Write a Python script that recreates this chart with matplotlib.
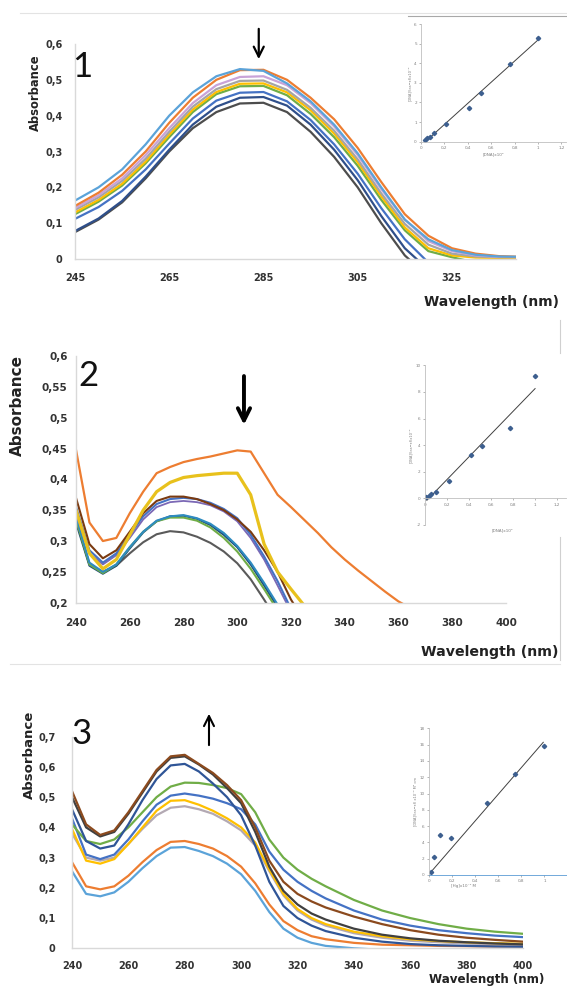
import numpy as np
import matplotlib
matplotlib.use('Agg')
import matplotlib.pyplot as plt
from matplotlib.ticker import FuncFormatter
from matplotlib.lines import Line2D

# ---------------- panel 1 data ----------------
wl1 = [245, 250, 255, 260, 265, 270, 275, 280, 285, 290, 295, 300, 305, 310, 315, 320, 325, 330, 335, 340]
p1_lightblue = [.163, .20, .25, .32, .40, .465, .51, .53, .525, .49, .44, .375, .295, .20, .11, .055, .025, .012, .007, .006]
p1_orange = [.148, .185, .235, .30, .38, .45, .50, .527, .528, .50, .45, .39, .31, .215, .125, .065, .03, .015, .008, .006]
p1_lilac = [.142, .178, .225, .29, .365, .435, .485, .508, .51, .485, .435, .37, .29, .195, .11, .05, .022, .01, .006, .005]
p1_gray = [.137, .172, .218, .28, .355, .425, .474, .497, .498, .472, .422, .358, .278, .183, .098, .04, .015, .007, .005, .005]
p1_yellow = [.130, .165, .21, .272, .347, .417, .466, .489, .49, .465, .415, .35, .27, .175, .088, .03, .01, .004, .003, .003]
p1_green = [.125, .16, .205, .267, .34, .41, .46, .482, .483, .457, .405, .34, .26, .165, .08, .022, .005, -.01]
p1_blue = [.112, .145, .19, .25, .322, .392, .442, .464, .466, .44, .388, .32, .238, .142, .055, -.01]
p1_navy = [.078, .113, .162, .23, .305, .375, .425, .45, .452, .428, .375, .305, .22, .12, .03, -.03]
p1_dark = [.075, .11, .158, .225, .30, .365, .41, .434, .436, .41, .355, .285, .20, .10, .01, -.05]
p1_series = [(p1_dark, '#4d4d4d'), (p1_navy, '#2f4f8a'), (p1_blue, '#4472C4'), (p1_green, '#70AD47'),
             (p1_yellow, '#FFC000'), (p1_gray, '#A5A5A5'), (p1_lilac, '#C9A3D8'), (p1_orange, '#ED7D31'),
             (p1_lightblue, '#5BA3D9')]

ins1_x = [0.034, 0.055, 0.077, 0.111, 0.214, 0.411, 0.512, 0.763, 1.0]
ins1_y = [0.09, 0.17, 0.26, 0.43, 0.90, 1.73, 2.47, 3.95, 5.31]

# ---------------- panel 2 data ----------------
wl2 = [240, 245, 250, 255, 260, 265, 270, 275, 280, 285, 290, 295, 300, 305, 310, 315, 320,
       325, 330, 335, 340, 345, 350, 355, 360, 365]
p2_orange = [.448, .33, .30, .305, .345, .38, .41, .42, .428, .433, .437, .442, .447, .445, .41, .375, .355,
             .334, .313, .29, .27, .252, .235, .218, .202, .19]
p2_yellow = [.35, .28, .255, .27, .31, .35, .38, .395, .403, .406, .408, .41, .41, .375, .295, .25, .222, .195]
p2_brown = [.37, .295, .272, .285, .315, .345, .365, .372, .372, .368, .36, .35, .335, .315, .285, .25, .205, .17]
p2_blue = [.355, .285, .265, .28, .31, .34, .36, .368, .37, .368, .362, .352, .337, .31, .275, .235, .19]
p2_purple = [.345, .28, .262, .277, .305, .335, .355, .363, .365, .363, .358, .348, .332, .305, .27, .228, .185]
p2_teal = [.34, .265, .25, .262, .29, .315, .333, .34, .342, .337, .328, .313, .292, .265, .232, .197]
p2_green = [.335, .262, .248, .262, .29, .315, .332, .338, .338, .333, .322, .305, .283, .255, .222, .188]
p2_navy = [.33, .26, .247, .26, .288, .314, .332, .34, .341, .336, .326, .31, .29, .262, .228, .193]
p2_dark = [.335, .262, .25, .26, .28, .298, .311, .316, .314, .307, .297, .283, .264, .238, .205, .17]
p2_series = [(p2_dark, '#5a5a5a', 1.5), (p2_navy, '#1F4E79', 1.5), (p2_green, '#70AD47', 1.5),
             (p2_teal, '#2E8BC0', 1.5), (p2_purple, '#7B68B5', 1.3), (p2_blue, '#4472C4', 1.5),
             (p2_brown, '#7a3a10', 1.5), (p2_yellow, '#E8C11C', 2.3), (p2_orange, '#ED7D31', 1.6)]

ins2_x = [0.015, 0.035, 0.06, 0.105, 0.217, 0.42, 0.518, 0.777, 1.0]
ins2_y = [0.1, 0.2, 0.3, 0.5, 1.33, 3.25, 3.95, 5.3, 9.2]

# ---------------- panel 3 data ----------------
wl3 = [240, 245, 250, 255, 260, 265, 270, 275, 280, 285, 290, 295, 300, 305, 310, 315, 320, 325, 330,
       340, 350, 360, 370, 380, 390, 400]
p3_brown = [.52, .41, .375, .39, .45, .52, .59, .635, .64, .61, .58, .54, .49, .40, .29, .22, .18, .155, .135,
            .105, .08, .06, .045, .035, .028, .022]
p3_dark = [.50, .40, .37, .385, .445, .515, .585, .63, .635, .608, .575, .53, .48, .385, .27, .19, .145, .115, .095,
           .065, .045, .033, .025, .02, .016, .013]
p3_navy = [.46, .355, .33, .34, .41, .49, .56, .605, .61, .585, .545, .50, .44, .34, .22, .14, .10, .075, .057,
           .035, .022, .014, .01, .008, .006, .005]
p3_green = [.41, .355, .345, .36, .40, .45, .50, .535, .548, .547, .54, .53, .51, .45, .36, .30, .26, .23, .205,
            .16, .125, .10, .08, .065, .055, .048]
p3_blue = [.43, .31, .295, .31, .36, .42, .475, .505, .512, .505, .495, .48, .46, .41, .32, .26, .22, .19, .165,
           .125, .095, .075, .06, .05, .042, .037]
p3_yellow = [.395, .29, .28, .295, .345, .40, .455, .488, .49, .475, .455, .43, .40, .35, .26, .18, .13, .10, .08,
             .055, .04, .03, .024, .02, .017, .015]
p3_gray = [.38, .30, .29, .30, .345, .395, .44, .465, .47, .46, .445, .42, .39, .34, .255, .175, .125, .095, .075,
           .05, .035, .025, .02, .016, .013, .012]
p3_orange = [.285, .205, .195, .205, .24, .285, .325, .352, .355, .345, .33, .305, .27, .215, .145, .09, .06, .04, .03,
             .018, .012, .01, .008, .007, .006, .006]
p3_lightblue = [.255, .18, .172, .185, .22, .265, .305, .333, .335, .322, .305, .28, .245, .19, .12, .065, .035, .018,
                .008, 0.0, -.005, -.005, -.005, -.005, -.005, -.005]
p3_series = [(p3_lightblue, '#5BA3D9'), (p3_orange, '#ED7D31'), (p3_gray, '#B3A9B3'), (p3_yellow, '#FFC000'),
             (p3_blue, '#4472C4'), (p3_green, '#70AD47'), (p3_navy, '#2F5597'), (p3_dark, '#404040'),
             (p3_brown, '#8B4A1E')]

ins3_x = [0.017, 0.046, 0.095, 0.19, 0.504, 0.749, 1.0]
ins3_y = [0.33, 2.25, 4.92, 4.59, 8.81, 12.42, 15.86]
fit3_slope, fit3_icpt = 16.4, 0.05

W, H = 567.0, 992.0
NUM_FONT = ['Lato', 'DejaVu Sans']


def px_box(left, top, right, bottom):
    return [left / W, 1 - bottom / H, (right - left) / W, (bottom - top) / H]


def comma(v, pos):
    s = ('%.2f' % v).rstrip('0').rstrip('.')
    if s == '-0':
        s = '0'
    return s.replace('.', ',')


def style_main(ax, fs, xpad, ypad):
    for s in ['top', 'right']:
        ax.spines[s].set_visible(False)
    for s in ['left', 'bottom']:
        ax.spines[s].set_color('#D9D9D9')
        ax.spines[s].set_linewidth(1.0)
    ax.tick_params(length=0, labelsize=fs, colors='#333333')
    ax.tick_params(axis='x', pad=xpad)
    ax.tick_params(axis='y', pad=ypad)
    ax.yaxis.set_major_formatter(FuncFormatter(comma))
    for lab in ax.get_xticklabels() + ax.get_yticklabels():
        lab.set_fontweight('bold')
    ax.patch.set_alpha(0)


def style_inset(ax, xlim, ylim, xticks, yticks):
    ax.set_xlim(*xlim)
    ax.set_ylim(*ylim)
    ax.set_xticks(xticks)
    ax.set_yticks(yticks)
    for s in ['top', 'right']:
        ax.spines[s].set_visible(False)
    for s in ['left', 'bottom']:
        ax.spines[s].set_color('#BFBFBF')
        ax.spines[s].set_linewidth(0.6)
    ax.tick_params(length=1.5, width=0.4, labelsize=3, pad=1.5, colors='#7f7f7f')
    ax.xaxis.set_major_formatter(FuncFormatter(comma))
    ax.yaxis.set_major_formatter(FuncFormatter(comma))
    ax.patch.set_alpha(0)


fig = plt.figure(figsize=(5.67, 9.92), dpi=100)

# ================= panel 1 =================
ax1 = fig.add_axes(px_box(75, 44, 516, 259))
for ys, c in p1_series:
    ax1.plot(wl1[:len(ys)], ys, color=c, lw=1.6, solid_capstyle='round', solid_joinstyle='round')
ax1.set_xlim(245, 338.6)
ax1.set_ylim(0, 0.6)
ax1.set_xticks([245, 265, 285, 305, 325])
ax1.set_yticks([0, 0.1, 0.2, 0.3, 0.4, 0.5, 0.6])
style_main(ax1, 7, 10, 9)
ax1.annotate('', xy=(284, 0.55), xytext=(284, 0.65), xycoords='data',
             arrowprops=dict(arrowstyle='->', lw=1.6, color='black', mutation_scale=18),
             annotation_clip=False)

ax1i = fig.add_axes(px_box(421, 24, 566, 141.7))
style_inset(ax1i, (0, 1.24), (0, 6), [0, 0.2, 0.4, 0.6, 0.8, 1, 1.2], [0, 1, 2, 3, 4, 5, 6])
f1 = np.polyfit(ins1_x, ins1_y, 1)
ax1i.plot([0.02, 1.0], np.polyval(f1, [0.02, 1.0]), color='#404040', lw=0.7)
ax1i.plot(ins1_x, ins1_y, 'D', ms=2.2, color='#3d5f8f')
ax1i.set_xlabel('[DNA]x10⁴', fontsize=3, labelpad=1.5, color='#7f7f7f')
ax1i.set_ylabel('[DNA]/(εa−εf)x10⁻⁹', fontsize=2.6, labelpad=1.5, color='#7f7f7f')

fig.text(35 / W, 1 - 93 / H, 'Absorbance', rotation=90, ha='center', va='center',
         fontsize=8.3, fontweight='bold', color='#222222')
fig.text(491 / W, 1 - 302 / H, 'Wavelength (nm)', ha='center', va='center',
         fontsize=10, fontweight='bold', color='#222222')
fig.text(82 / W, 1 - 67 / H, '1', ha='center', va='center', fontsize=25,
         family=NUM_FONT, fontweight='normal', color='#111111')

# ================= panel 2 =================
ax2 = fig.add_axes(px_box(76, 356, 506, 602.7))
for ys, c, lw in p2_series:
    ax2.plot(wl2[:len(ys)], ys, color=c, lw=lw, solid_capstyle='round', solid_joinstyle='round')
ax2.set_xlim(240, 400)
ax2.set_ylim(0.2, 0.6)
ax2.set_xticks([240, 260, 280, 300, 320, 340, 360, 380, 400])
ax2.set_yticks([0.2, 0.25, 0.3, 0.35, 0.4, 0.45, 0.5, 0.55, 0.6])
style_main(ax2, 7.5, 11, 6)
ax2.annotate('', xy=(302.5, 0.484), xytext=(302.5, 0.572), xycoords='data',
             arrowprops=dict(arrowstyle='->', lw=2.8, color='black', mutation_scale=22),
             annotation_clip=False)

ax2i = fig.add_axes(px_box(424.7, 365.3, 566, 525))
style_inset(ax2i, (0, 1.28), (-2, 10), [0, 0.2, 0.4, 0.6, 0.8, 1, 1.2], [-2, 0, 2, 4, 6, 8, 10])
ax2i.spines['bottom'].set_position(('data', 0))
f2 = np.polyfit(ins2_x, ins2_y, 1)
ax2i.plot([0.02, 1.0], np.polyval(f2, [0.02, 1.0]), color='#404040', lw=0.7)
ax2i.plot(ins2_x, ins2_y, 'D', ms=2.2, color='#3d5f8f')
ax2i.set_xlabel('[DNA]x10⁴', fontsize=3, labelpad=1.5, color='#7f7f7f')
ax2i.xaxis.set_label_coords(0.55, -0.02)
ax2i.set_ylabel('[DNA]/(εa−εf)x10⁻⁹', fontsize=2.6, labelpad=1.5, color='#7f7f7f')

fig.text(17 / W, 1 - 405 / H, 'Absorbance', rotation=90, ha='center', va='center',
         fontsize=11, fontweight='bold', color='#222222')
fig.text(490 / W, 1 - 652 / H, 'Wavelength (nm)', ha='center', va='center',
         fontsize=10.2, fontweight='bold', color='#222222')
fig.text(88 / W, 1 - 376 / H, '2', ha='center', va='center', fontsize=25,
         family=NUM_FONT, fontweight='normal', color='#111111')

# ================= panel 3 =================
ax3 = fig.add_axes(px_box(72, 736.7, 523, 948.3))
for ys, c in p3_series:
    ax3.plot(wl3[:len(ys)], ys, color=c, lw=1.6, solid_capstyle='round', solid_joinstyle='round')
ax3.set_xlim(240, 400)
ax3.set_ylim(0, 0.7)
ax3.set_xticks([240, 260, 280, 300, 320, 340, 360, 380, 400])
ax3.set_yticks([0, 0.1, 0.2, 0.3, 0.4, 0.5, 0.6, 0.7])
style_main(ax3, 7, 9, 12)
ax3.annotate('', xy=(288.6, 0.785), xytext=(288.6, 0.663), xycoords='data',
             arrowprops=dict(arrowstyle='->', lw=1.5, color='black', mutation_scale=18),
             annotation_clip=False)

ax3i = fig.add_axes(px_box(428.7, 728.3, 567, 875))
style_inset(ax3i, (0, 1.195), (0, 18), [0, 0.2, 0.4, 0.6, 0.8, 1], [0, 2, 4, 6, 8, 10, 12, 14, 16, 18])
ax3i.spines['bottom'].set_color('#5B9BD5')
ax3i.plot([0.01, 0.99], [fit3_icpt + fit3_slope * 0.01, fit3_icpt + fit3_slope * 0.99],
          color='#404040', lw=0.7)
ax3i.plot(ins3_x, ins3_y, 'D', ms=2.2, color='#3d5f8f')
ax3i.set_xlabel('[Hg]x10⁻⁴ M', fontsize=3, labelpad=0.5, color='#7f7f7f')
ax3i.xaxis.set_label_coords(0.25, -0.06)
ax3i.set_ylabel('[DNA]/(εa−εf) x10⁻⁹ M² cm', fontsize=2.6, labelpad=1.5, color='#7f7f7f')

fig.text(29 / W, 1 - 755 / H, 'Absorbance', rotation=90, ha='center', va='center',
         fontsize=9.5, fontweight='bold', color='#222222')
fig.text(487 / W, 1 - 980 / H, 'Wavelength (nm)', ha='center', va='center',
         fontsize=8.6, fontweight='bold', color='#222222')
fig.text(82 / W, 1 - 734 / H, '3', ha='center', va='center', fontsize=25,
         family=NUM_FONT, fontweight='normal', color='#111111')

# separators of the composite figure
fig.add_artist(Line2D([20 / W, 1], [1 - 13 / H] * 2, color='#E3E3E3', lw=0.8))
fig.add_artist(Line2D([408 / W, 1], [1 - 16 / H] * 2, color='#A8A8A8', lw=0.8))
fig.add_artist(Line2D([560 / W] * 2, [1 - 320 / H, 1 - 353 / H], color='#D0D0D0', lw=0.8))
fig.add_artist(Line2D([560 / W] * 2, [1 - 537 / H, 1 - 660 / H], color='#D0D0D0', lw=0.8))
fig.add_artist(Line2D([10 / W, 560 / W], [1 - 664 / H] * 2, color='#E3E3E3', lw=0.8))

fig.savefig('out.png', dpi=100)
